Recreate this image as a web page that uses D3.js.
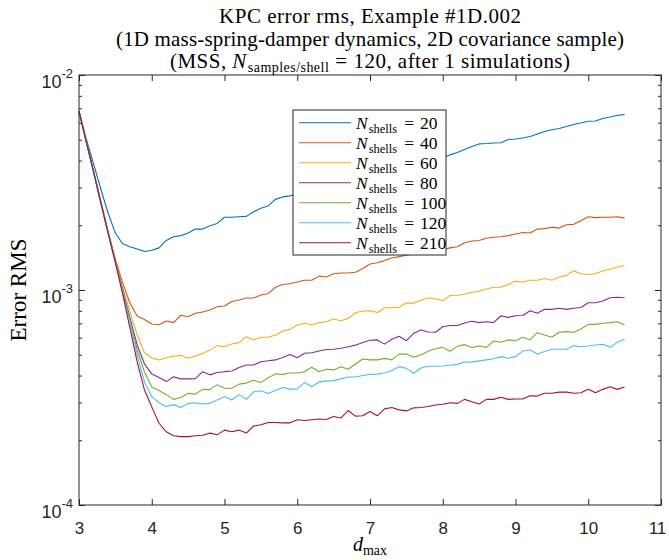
<!DOCTYPE html>
<html><head><meta charset="utf-8">
<script src="https://cdn.jsdelivr.net/npm/d3@7/dist/d3.min.js"></script>
<style>body{margin:0;background:#fff}svg{display:block}</style>
</head><body><svg id="c" width="669" height="560"></svg>
<script>
// ---------- data ----------
const dmax = [3.0,3.1,3.2,3.3,3.4,3.5,3.6,3.7,3.8,3.9,4.0,4.1,4.2,4.3,4.4,4.5,4.6,4.7,4.8,4.9,
  5.0,5.1,5.2,5.3,5.4,5.5,5.6,5.7,5.8,5.9,6.0,6.1,6.2,6.3,6.4,6.5,6.6,6.7,6.8,6.9,
  7.0,7.1,7.2,7.3,7.4,7.5,7.6,7.7,7.8,7.9,8.0,8.1,8.2,8.3,8.4,8.5,8.6,8.7,8.8,8.9,
  9.0,9.1,9.2,9.3,9.4,9.5,9.6,9.7,9.8,9.9,10.0,10.1,10.2,10.3,10.4,10.5];
const nShells = [20, 40, 60, 80, 100, 120, 210];
const n20 = [6.80e-3,5.04e-3,3.86e-3,2.95e-3,2.28e-3,1.84e-3,1.64e-3,1.59e-3,1.55e-3,1.51e-3,
  1.53e-3,1.57e-3,1.70e-3,1.77e-3,1.79e-3,1.84e-3,1.92e-3,1.92e-3,1.99e-3,2.04e-3,
  2.18e-3,2.18e-3,2.19e-3,2.20e-3,2.31e-3,2.40e-3,2.46e-3,2.64e-3,2.71e-3,2.74e-3,
  2.80e-3,2.85e-3,2.93e-3,2.97e-3,3.06e-3,3.09e-3,3.19e-3,3.24e-3,3.31e-3,3.35e-3,
  3.44e-3,3.49e-3,3.57e-3,3.61e-3,3.71e-3,3.75e-3,3.83e-3,3.89e-3,3.99e-3,4.04e-3,
  4.11e-3,4.25e-3,4.36e-3,4.50e-3,4.65e-3,4.78e-3,4.80e-3,4.83e-3,4.84e-3,5.01e-3,
  5.04e-3,5.09e-3,5.18e-3,5.32e-3,5.46e-3,5.56e-3,5.64e-3,5.76e-3,5.89e-3,5.98e-3,
  6.09e-3,6.11e-3,6.28e-3,6.38e-3,6.50e-3,6.54e-3];
const n40 = [6.80e-3,4.93e-3,3.58e-3,2.60e-3,1.88e-3,1.39e-3,1.08e-3,8.70e-4,7.57e-4,7.29e-4,
  6.95e-4,6.89e-4,7.18e-4,7.05e-4,7.63e-4,7.51e-4,7.79e-4,7.90e-4,8.07e-4,8.36e-4,
  8.43e-4,8.84e-4,8.99e-4,9.18e-4,9.18e-4,9.48e-4,9.61e-4,1.03e-3,1.06e-3,1.07e-3,
  1.09e-3,1.11e-3,1.11e-3,1.16e-3,1.15e-3,1.19e-3,1.20e-3,1.20e-3,1.21e-3,1.26e-3,
  1.32e-3,1.34e-3,1.37e-3,1.41e-3,1.43e-3,1.45e-3,1.47e-3,1.48e-3,1.50e-3,1.52e-3,
  1.54e-3,1.57e-3,1.59e-3,1.66e-3,1.69e-3,1.70e-3,1.74e-3,1.76e-3,1.77e-3,1.79e-3,
  1.82e-3,1.85e-3,1.84e-3,1.92e-3,1.93e-3,1.96e-3,1.94e-3,2.01e-3,2.02e-3,2.10e-3,
  2.19e-3,2.17e-3,2.18e-3,2.18e-3,2.19e-3,2.16e-3];
const n60 = [6.80e-3,4.91e-3,3.56e-3,2.57e-3,1.86e-3,1.37e-3,1.03e-3,7.90e-4,6.18e-4,5.11e-4,
  4.83e-4,4.73e-4,4.84e-4,4.92e-4,4.97e-4,4.81e-4,4.93e-4,5.08e-4,5.24e-4,5.51e-4,
  5.45e-4,5.61e-4,5.69e-4,6.06e-4,5.86e-4,6.03e-4,6.03e-4,6.18e-4,6.45e-4,6.56e-4,
  6.88e-4,7.00e-4,6.88e-4,7.05e-4,7.12e-4,7.33e-4,7.20e-4,7.38e-4,7.84e-4,7.99e-4,
  8.01e-4,7.86e-4,8.27e-4,8.27e-4,8.31e-4,8.70e-4,8.67e-4,8.96e-4,9.18e-4,9.11e-4,
  8.92e-4,9.43e-4,9.45e-4,9.56e-4,9.76e-4,9.86e-4,1.01e-3,1.03e-3,1.03e-3,1.06e-3,
  1.10e-3,1.09e-3,1.11e-3,1.11e-3,1.13e-3,1.11e-3,1.15e-3,1.17e-3,1.23e-3,1.19e-3,
  1.18e-3,1.19e-3,1.23e-3,1.25e-3,1.28e-3,1.30e-3];
const n80 = [6.80e-3,4.88e-3,3.54e-3,2.55e-3,1.85e-3,1.36e-3,1.00e-3,7.41e-4,5.55e-4,4.53e-4,
  4.07e-4,3.92e-4,3.75e-4,3.95e-4,3.86e-4,3.86e-4,3.87e-4,4.17e-4,4.03e-4,4.13e-4,
  4.17e-4,4.20e-4,4.36e-4,4.48e-4,4.48e-4,4.64e-4,4.69e-4,4.73e-4,4.85e-4,5.01e-4,
  4.84e-4,5.08e-4,5.11e-4,5.20e-4,5.29e-4,5.30e-4,5.36e-4,5.45e-4,5.54e-4,5.70e-4,
  5.84e-4,5.86e-4,5.60e-4,5.90e-4,6.09e-4,5.81e-4,6.29e-4,6.52e-4,6.38e-4,6.36e-4,
  6.75e-4,6.84e-4,6.84e-4,7.02e-4,7.15e-4,7.05e-4,7.12e-4,7.05e-4,7.59e-4,7.46e-4,
  7.59e-4,7.61e-4,8.01e-4,7.79e-4,8.13e-4,8.13e-4,8.22e-4,8.13e-4,8.22e-4,8.29e-4,
  8.73e-4,8.73e-4,8.89e-4,9.21e-4,9.25e-4,9.21e-4];
const n100 = [6.80e-3,4.88e-3,3.54e-3,2.55e-3,1.85e-3,1.35e-3,9.89e-4,7.25e-4,5.26e-4,4.16e-4,
  3.54e-4,3.41e-4,3.26e-4,3.10e-4,3.16e-4,3.31e-4,3.28e-4,3.45e-4,3.44e-4,3.63e-4,
  3.49e-4,3.49e-4,3.65e-4,3.69e-4,3.80e-4,3.71e-4,3.91e-4,4.07e-4,4.05e-4,4.11e-4,
  4.11e-4,4.17e-4,4.37e-4,4.17e-4,4.28e-4,4.25e-4,4.40e-4,4.28e-4,4.53e-4,4.78e-4,
  4.73e-4,4.73e-4,4.81e-4,4.73e-4,5.03e-4,5.04e-4,4.88e-4,4.99e-4,5.19e-4,5.33e-4,
  5.41e-4,5.19e-4,5.47e-4,5.57e-4,5.40e-4,5.49e-4,5.41e-4,5.79e-4,5.71e-4,5.86e-4,
  5.81e-4,6.03e-4,5.86e-4,6.33e-4,6.18e-4,6.03e-4,6.36e-4,6.40e-4,6.36e-4,6.58e-4,
  6.92e-4,6.92e-4,7.00e-4,7.05e-4,7.12e-4,6.88e-4];
const n120 = [6.80e-3,4.88e-3,3.54e-3,2.54e-3,1.84e-3,1.35e-3,9.79e-4,7.10e-4,4.99e-4,3.73e-4,
  3.19e-4,2.99e-4,2.87e-4,2.93e-4,2.84e-4,2.97e-4,2.99e-4,2.95e-4,2.97e-4,3.08e-4,
  3.20e-4,3.08e-4,3.26e-4,3.10e-4,3.36e-4,3.40e-4,3.30e-4,3.41e-4,3.52e-4,3.46e-4,
  3.47e-4,3.71e-4,3.55e-4,3.73e-4,3.78e-4,3.79e-4,3.86e-4,3.94e-4,3.94e-4,4.00e-4,
  4.05e-4,4.06e-4,4.11e-4,4.22e-4,4.40e-4,4.32e-4,4.10e-4,4.34e-4,4.42e-4,4.42e-4,
  4.43e-4,4.47e-4,4.51e-4,4.62e-4,4.63e-4,4.68e-4,4.73e-4,4.79e-4,4.90e-4,4.81e-4,
  4.90e-4,5.20e-4,5.26e-4,5.04e-4,5.17e-4,5.30e-4,5.30e-4,5.30e-4,5.51e-4,5.45e-4,
  5.49e-4,5.55e-4,5.59e-4,5.41e-4,5.71e-4,5.90e-4];
const n210 = [6.80e-3,4.88e-3,3.54e-3,2.54e-3,1.84e-3,1.34e-3,9.58e-4,6.66e-4,4.63e-4,3.43e-4,
  2.86e-4,2.40e-4,2.19e-4,2.10e-4,2.08e-4,2.08e-4,2.10e-4,2.11e-4,2.16e-4,2.12e-4,
  2.23e-4,2.19e-4,2.23e-4,2.16e-4,2.33e-4,2.36e-4,2.42e-4,2.42e-4,2.41e-4,2.41e-4,
  2.49e-4,2.47e-4,2.49e-4,2.51e-4,2.50e-4,2.58e-4,2.54e-4,2.75e-4,2.59e-4,2.60e-4,
  2.72e-4,2.60e-4,2.80e-4,2.84e-4,2.77e-4,2.74e-4,2.83e-4,2.84e-4,2.87e-4,2.92e-4,
  2.94e-4,2.99e-4,2.97e-4,3.10e-4,3.02e-4,2.95e-4,3.10e-4,3.10e-4,3.17e-4,3.10e-4,
  3.11e-4,3.11e-4,3.22e-4,3.21e-4,3.31e-4,3.31e-4,3.35e-4,3.35e-4,3.31e-4,3.33e-4,
  3.45e-4,3.33e-4,3.45e-4,3.55e-4,3.45e-4,3.54e-4];
const seriesValues = [n20, n40, n60, n80, n100, n120, n210];
const colors = ['#0072BD','#D95319','#EDB120','#7E2F8E','#77AC30','#4DBEEE','#A2142F'];
const xTicks = [3,4,5,6,7,8,9,10,11];
const yMajor = [1e-4, 1e-3, 1e-2];
const yExp = ['-4','-3','-2'];
const yMinor = [2e-4,3e-4,4e-4,5e-4,6e-4,7e-4,8e-4,9e-4,2e-3,3e-3,4e-3,5e-3,6e-3,7e-3,8e-3,9e-3];

// ---------- layout ----------
const L = 79, R = 661, T = 75, B = 505;
const axisCol = '#262626';
const serif = "'Liberation Serif','DejaVu Serif',serif";
const sans = "'Liberation Sans',Arial,sans-serif";
const svg = d3.select('#c');
svg.append('rect').attr('width',669).attr('height',560).attr('fill','#fff');

const x = d3.scaleLinear().domain([3, 11]).range([L, R]);
const y = d3.scaleLog().domain([1e-4, 1e-2]).range([B, T]);

// lines
const line = d3.line().x((d, i) => x(dmax[i])).y(d => y(d));
const gLines = svg.append('g');
seriesValues.forEach((vals, k) => {
  gLines.append('path').datum(vals).attr('d', line)
    .attr('fill','none').attr('stroke', colors[k]).attr('stroke-width', 1.1)
    .attr('stroke-linejoin','round');
});

// axes
function styleAxis(g){
  g.selectAll('.domain').remove();
  g.selectAll('line').attr('stroke', axisCol).attr('stroke-width', 1);
}
svg.append('g').attr('transform',`translate(0,${B})`)
  .call(d3.axisBottom(x).tickValues(xTicks).tickSizeInner(-6).tickSizeOuter(0).tickPadding(17).tickFormat(d3.format('d')))
  .call(styleAxis)
  .call(g => g.selectAll('text').attr('font-family', sans).attr('font-size', 17).attr('fill', axisCol)
     .attr('dx', d => d === 11 ? -4 : 0));
svg.append('g').attr('transform',`translate(0,${T})`)
  .call(d3.axisTop(x).tickValues(xTicks).tickSizeInner(-6).tickSizeOuter(0).tickFormat(''))
  .call(styleAxis);
svg.append('g').attr('transform',`translate(${L},0)`)
  .call(d3.axisLeft(y).tickValues(yMajor).tickSizeInner(-6).tickSizeOuter(0).tickFormat(''))
  .call(styleAxis);
svg.append('g').attr('transform',`translate(${L},0)`)
  .call(d3.axisLeft(y).tickValues(yMinor).tickSizeInner(-3).tickSizeOuter(0).tickFormat(''))
  .call(styleAxis);
svg.append('g').attr('transform',`translate(${R},0)`)
  .call(d3.axisRight(y).tickValues(yMajor).tickSizeInner(-6).tickSizeOuter(0).tickFormat(''))
  .call(styleAxis);
svg.append('g').attr('transform',`translate(${R},0)`)
  .call(d3.axisRight(y).tickValues(yMinor).tickSizeInner(-3).tickSizeOuter(0).tickFormat(''))
  .call(styleAxis);
svg.append('rect').attr('x',L).attr('y',T).attr('width',R-L).attr('height',B-T)
  .attr('fill','none').attr('stroke',axisCol).attr('stroke-width',1);

// y tick labels 10^n
yMajor.forEach((v, i) => {
  const t = svg.append('text').attr('x', 73).attr('y', y(v) + 13)
    .attr('text-anchor','end').attr('font-family', sans).attr('font-size', 18).attr('fill', axisCol);
  t.append('tspan').text('10');
  t.append('tspan').attr('dy', -10).attr('font-size', 13).text(yExp[i]);
});

// titles
const cx = (L + R) / 2;
const tfs = 21;
svg.append('text').attr('x', cx).attr('y', 23).attr('text-anchor','middle')
  .attr('font-family', serif).attr('font-size', tfs).attr('fill','#000')
  .attr('textLength', 302).attr('lengthAdjust','spacing')
  .text('KPC error rms, Example #1D.002');
svg.append('text').attr('x', cx).attr('y', 46).attr('text-anchor','middle')
  .attr('font-family', serif).attr('font-size', tfs).attr('fill','#000')
  .attr('textLength', 508).attr('lengthAdjust','spacing')
  .text('(1D mass-spring-damper dynamics, 2D covariance sample)');
const t3 = svg.append('text').attr('x', cx).attr('y', 68).attr('text-anchor','middle')
  .attr('font-family', serif).attr('font-size', tfs).attr('fill','#000')
  .attr('textLength', 400).attr('lengthAdjust','spacing');
t3.append('tspan').text('(MSS, ');
t3.append('tspan').attr('font-style','italic').text('N');
t3.append('tspan').attr('font-size', 14).attr('dy', 4).attr('dx', 1).text('samples/shell');
t3.append('tspan').attr('dy', -4).attr('dx', 6).text('=');
t3.append('tspan').attr('dx', 6).text('120, after 1 simulations)');

// axis labels
const xl = svg.append('text').attr('x', cx).attr('y', 551).attr('text-anchor','middle')
  .attr('font-family', serif).attr('font-size', 20).attr('fill','#000');
xl.append('tspan').attr('font-style','italic').text('d');
xl.append('tspan').attr('font-size', 14).attr('dy', 4).text('max');
svg.append('text').attr('transform',`translate(26,${(T+B)/2}) rotate(-90)`)
  .attr('text-anchor','middle').attr('font-family', serif).attr('font-size', 23).attr('fill','#000')
  .text('Error RMS');

// legend
const lg = svg.append('g');
lg.append('rect').attr('x', 293).attr('y', 110).attr('width', 153).attr('height', 145)
  .attr('fill','#fff').attr('stroke', axisCol).attr('stroke-width', 1);
nShells.forEach((n, k) => {
  const yy = 122.7 + k * 20;
  lg.append('line').attr('x1', 299).attr('x2', 351).attr('y1', yy).attr('y2', yy)
    .attr('stroke', colors[k]).attr('stroke-width', 1.1);
  const t = lg.append('text').attr('x', 356).attr('y', yy + 6)
    .attr('font-family', serif).attr('font-size', 17.5).attr('fill','#000');
  t.append('tspan').attr('font-style','italic').text('N');
  t.append('tspan').attr('font-size', 12.5).attr('dy', 4).attr('dx', 1).text('shells');
  t.append('tspan').attr('dy', -4).attr('dx', 7).text('=');
  t.append('tspan').attr('dx', 6).text(String(n));
});
</script></body></html>
